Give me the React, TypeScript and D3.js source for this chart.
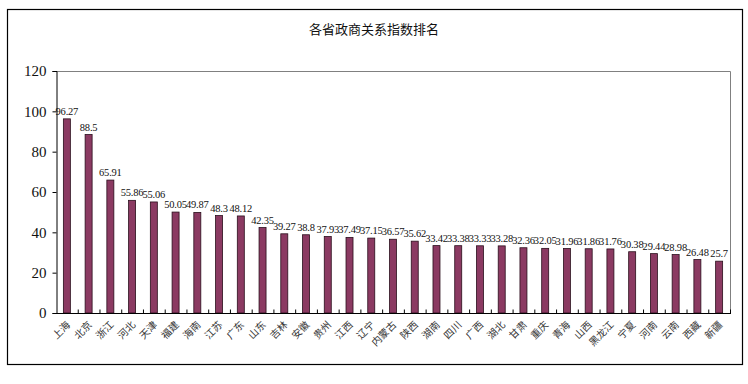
import React, { useEffect, useRef } from 'react'
import * as d3 from 'd3'

const title = '各省政商关系指数排名'

const provinces = [
  '上海', '北京', '浙江', '河北', '天津', '福建', '海南', '江苏', '广东', '山东',
  '吉林', '安徽', '贵州', '江西', '辽宁', '内蒙古', '陕西', '湖南', '四川', '广西',
  '湖北', '甘肃', '重庆', '青海', '山西', '黑龙江', '宁夏', '河南', '云南', '西藏', '新疆',
]

const scores = [
  96.27, 88.5, 65.91, 55.86, 55.06, 50.05, 49.87, 48.3, 48.12, 42.35,
  39.27, 38.8, 37.93, 37.49, 37.15, 36.57, 35.62, 33.42, 33.38, 33.33,
  33.28, 32.36, 32.05, 31.96, 31.86, 31.76, 30.38, 29.44, 28.98, 26.48, 25.7,
]

const yTicks = [0, 20, 40, 60, 80, 100, 120]

const App = () => {
  const ref = useRef<SVGSVGElement>(null)

  useEffect(() => {
    const width = 748
    const height = 384
    const plot = { left: 56, right: 730, top: 71, bottom: 313 }

    const svg = d3.select(ref.current)
    svg.selectAll('*').remove()

    svg.append('rect')
      .attr('width', width)
      .attr('height', height)
      .attr('fill', '#fff')

    // outer frame
    svg.append('rect')
      .attr('x', 7.5)
      .attr('y', 9.5)
      .attr('width', 735)
      .attr('height', 355)
      .attr('fill', 'none')
      .attr('stroke', '#000')
      .attr('stroke-width', 1.2)

    svg.append('text')
      .attr('x', width / 2)
      .attr('y', 34)
      .attr('text-anchor', 'middle')
      .style('font-family', '"Noto Sans CJK SC", sans-serif')
      .style('font-size', '13px')
      .attr('fill', '#111')
      .text(title)

    const x = d3.scaleBand()
      .domain(provinces)
      .range([plot.left, plot.right])

    const y = d3.scaleLinear()
      .domain([0, 120])
      .range([plot.bottom, plot.top])

    // plot area border (top / right)
    svg.append('path')
      .attr('d', `M${plot.left},${plot.top + 0.5}H${plot.right + 0.5}V${plot.bottom}`)
      .attr('fill', 'none')
      .attr('stroke', '#808080')

    // bars
    const barW = 7
    svg.append('g')
      .selectAll('rect')
      .data(scores)
      .join('rect')
      .attr('x', (d, i) => x(provinces[i])! + x.bandwidth() / 2 - barW / 2)
      .attr('y', d => y(d))
      .attr('width', barW)
      .attr('height', d => plot.bottom - y(d))
      .attr('fill', '#8b3a62')
      .attr('stroke', '#2a0f1c')
      .attr('stroke-width', 0.8)

    // value labels
    svg.append('g')
      .selectAll('text')
      .data(scores)
      .join('text')
      .attr('x', (d, i) => x(provinces[i])! + x.bandwidth() / 2)
      .attr('y', d => y(d) - 4)
      .attr('text-anchor', 'middle')
      .style('font-family', '"Liberation Serif", serif')
      .style('font-size', '10.5px')
      .style('letter-spacing', '-0.2px')
      .attr('fill', '#111')
      .text(d => String(d))

    // y axis
    const yAxis = svg.append('g')
      .attr('transform', `translate(${plot.left + 0.5},0)`)
      .call(d3.axisLeft(y).tickValues(yTicks).tickSize(4).tickFormat(d3.format('d')))
    yAxis.select('.domain').attr('stroke', '#000')
    yAxis.selectAll('line').attr('stroke', '#000')
    yAxis.selectAll('text')
      .attr('x', -10)
      .style('font-family', '"Liberation Serif", serif')
      .style('font-size', '15px')
      .attr('fill', '#111')

    // x axis
    const xAxis = svg.append('g')
      .attr('transform', `translate(0,${plot.bottom + 0.5})`)
    xAxis.append('line')
      .attr('x1', plot.left)
      .attr('x2', plot.right + 1)
      .attr('stroke', '#000')
    xAxis.selectAll('line.tick')
      .data(provinces)
      .join('line')
      .attr('class', 'tick')
      .attr('x1', d => x(d)! + x.bandwidth() + 0.5)
      .attr('x2', d => x(d)! + x.bandwidth() + 0.5)
      .attr('y1', 0)
      .attr('y2', -4)
      .attr('stroke', '#000')
    xAxis.selectAll('text')
      .data(provinces)
      .join('text')
      .attr('transform', d => `translate(${x(d)! + x.bandwidth() / 2 + 4},${12}) rotate(-45)`)
      .attr('text-anchor', 'end')
      .style('font-family', '"Noto Sans CJK SC", sans-serif')
      .style('font-size', '10px')
      .attr('fill', '#333')
      .text(d => d)
  }, [])

  return (
    <svg
      ref={ref}
      width={748}
      height={384}
      style={{ position: 'absolute', left: 0, top: 0, display: 'block' }}
    />
  )
}

export default App
